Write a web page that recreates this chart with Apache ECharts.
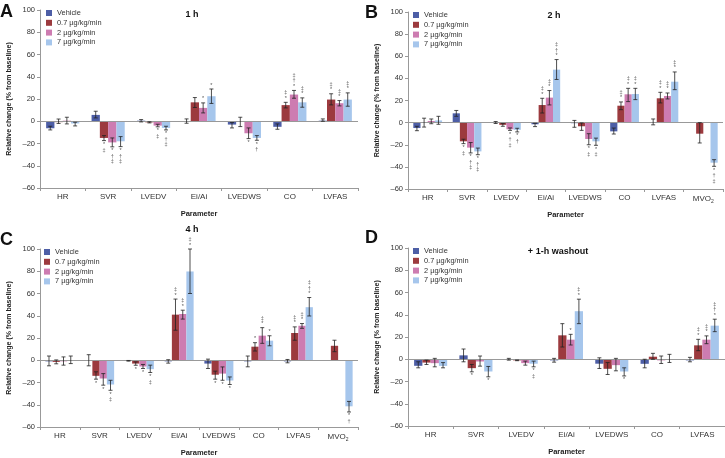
<!DOCTYPE html>
<html>
<head>
<meta charset="utf-8">
<script src="https://cdn.jsdelivr.net/npm/echarts@6/dist/echarts.min.js"></script>
<style>html,body{margin:0;padding:0;background:#fff}#c{width:725px;height:458px}</style>
</head>
<body>
<div id="c"></div>
<script>
// ---------- DATA ----------
const seriesNames = ['Vehicle', '0.7 \u00b5g/kg/min', '2 \u00b5g/kg/min', '7 \u00b5g/kg/min'];
const catsA = ['HR', 'SVR', 'LVEDV', 'Ei/Ai', 'LVEDWS', 'CO', 'LVFAS'];
const catsB = ['HR', 'SVR', 'LVEDV', 'Ei/Ai', 'LVEDWS', 'CO', 'LVFAS', 'MVO2'];
const catsC = ['HR', 'SVR', 'LVEDV', 'Ei/Ai', 'LVEDWS', 'CO', 'LVFAS', 'MVO2'];
const catsD = ['HR', 'SVR', 'LVEDV', 'Ei/Ai', 'LVEDWS', 'CO', 'LVFAS'];
const yTicks = [-60, -40, -20, 0, 20, 40, 60, 80, 100];
const panelTitles = ['1 h', '2 h', '4 h', '+ 1-h washout'];

// Panel A (1 h)
const A_veh = [-6.3, 5.7, 0.5, 0, -3, -5, 0.5];
const A_07  = [-0.8, -15, -1, 17, 0, 14.5, 19.5];
const A_2   = [0.5, -19, -3.9, 12, -10.8, 24, 16.2];
const A_7   = [-2, -18, -6, 22.5, -15, 17, 19.5];
const A_veh_err = [[-7.8,-4.5],[3,9],[-0.6,1.5],[-1.8,2.1],[-6,-1.2],[-7.2,-2.4],[0,2.1]];
const A_07_err  = [[-2,2],[-17.4,-12.9],[-1.5,-0.5],[12.4,21.3],[-4.8,3.6],[12,17],[14.7,24.7]];
const A_2_err   = [[-2.4,3.6],[-23,-15],[-5,-2.7],[7.5,16.5],[-15.6,-6],[20.7,27.7],[13.8,18.6]];
const A_7_err   = [[-4.2,-0.9],[-22.8,-13.8],[-7.8,-4.5],[16,29],[-17.1,-12.9],[12.6,21],[13.5,25.5]];
const A_07_sig  = ['', '*\u2021', '', '', '', '*\u2021', '*\u2021'];
const A_2_sig   = ['', '*\u2020\u2021', '*\u2021', '*', '*', '*\u2020\u2021', '*\u2021'];
const A_7_sig   = ['', '*\u2020\u2021', '*\u2020\u2021', '*', '*\u2020', '*\u2021', '*\u2021'];

// Panel B (2 h)
const B_veh = [-4.9, 8.4, -0.3, -1.5, -0.5, -7.9, 0.5, null];
const B_07  = [0, -16.9, -2, 15.9, -3.3, 15.3, 22, -10];
const B_2   = [1.5, -22.6, -6, 22.6, -14.8, 25.6, 24.1, null];
const B_7   = [2, -26, -6.5, 47.9, -16.9, 25.9, 37, -36.2];
const B_veh_err = [[-7.3,-3.3],[5.7,11],[-0.8,1],[-3.6,-0.6],[-4.2,2],[-10.3,-4.9],[-2,3.3],null];
const B_07_err  = [[-4,4],[-19,-15],[-3.3,-0.9],[8.7,22],[-7,-0.3],[11.7,18.7],[17.8,27.4],[-18.4,0]];
const B_2_err   = [[-1,3.3],[-27.4,-18],[-7,-4.8],[16,29],[-20,-10],[19,31],[21.4,26.8],null];
const B_7_err   = [[-1.5,5.7],[-29,-23],[-8.4,-5.1],[39,57],[-20.5,-14],[20.8,31],[29.8,45.8],[-39.5,-33.5]];
const B_07_sig  = ['', '*\u2021', '', '*\u2021', '', '*\u2021', '*\u2021', ''];
const B_2_sig   = ['', '*\u2020\u2021', '*\u2020\u2021', '*\u2021', '*\u2021', '*\u2021', '*\u2021', ''];
const B_7_sig   = ['', '*\u2020\u2021', '*\u2020', '*\u2020\u2021', '*\u2021', '*\u2021', '*\u2021', '*\u2020\u2021'];

// Panel C (4 h)
const C_veh = [-1, 0, -0.5, -1, -3, -1, -1, null];
const C_07  = [-1.5, -14, -3, 41, -13, 12.2, 24.5, 13];
const C_2   = [-1, -16.4, -5.6, 41.6, -12, 22.1, 31, null];
const C_7   = [0, -21.8, -8, 79.8, -18.2, 17.6, 47.7, -41.4];
const C_veh_err = [[-5,3.8],[-5,5],[-0.8,-0.2],[-2.6,0.5],[-7.4,1],[-5.9,3.8],[-2.3,0.7],null];
const C_07_err  = [[-3.2,0.3],[-17,-10.4],[-4.5,-1.5],[27,55],[-17,-9.8],[8.3,15.8],[18,30],[7.7,18]];
const C_2_err   = [[-4.4,3],[-22.4,-12],[-7.4,-3.8],[37,45],[-18,-6],[15.2,29.3],[28.7,33],null];
const C_7_err   = [[-3,3.8],[-27,-18],[-11,-4.4],[60,100],[-21.8,-15],[13,22],[39.8,56.4],[-46.5,-37]];
const C_07_sig  = ['', '*', '*', '*\u2021', '*', '*', '*\u2021', ''];
const C_2_sig   = ['', '*', '*', '*\u2021', '*', '*\u2021', '*\u2021', ''];
const C_7_sig   = ['', '*\u2021', '*\u2021', '*\u2021', '*', '*', '*\u2020\u2021', '*\u2020'];

// Panel D (+ 1-h washout)
const D_veh = [-5.9, 3.5, 0, -1, -4, -4.1, -1];
const D_07  = [-3, -8, -1, 21.5, -8.6, 2.3, 12.5];
const D_2   = [-3.5, -2, -3.5, 17.6, -5.3, -1, 17.6];
const D_7   = [-6, -11, -4, 43.2, -11, 0, 30.2];
const D_veh_err = [[-7.7,-2.3],[-2.3,9.2],[-0.8,0.8],[-2.6,0.8],[-8.3,1.3],[-7.7,0],[-2.3,1.7]];
const D_07_err  = [[-4.7,-0.8],[-11.3,-4.7],[-1.3,-0.7],[11,32],[-13.7,-3],[0,5.3],[7.7,17.9]];
const D_2_err   = [[-6.8,0.8],[-6.2,2.9],[-5.3,-1.7],[12.8,22.4],[-10.4,0.8],[-3.8,2.9],[14,21]];
const D_7_err   = [[-7.7,-3],[-15.8,-6.5],[-6.8,-1.7],[32,54],[-15,-7.7],[-2.9,4.4],[24.8,36]];
const D_07_sig  = ['', '*', '', '', '', '', '*\u2021'];
const D_2_sig   = ['', '', '', '*', '', '', '*\u2021'];
const D_7_sig   = ['', '*', '*\u2021', '*\u2021', '*', '', '*\u2020\u2021'];

// ---------- CHART ----------
const colors = ['#4d5ea6', '#9c3a3e', '#cd7cb1', '#a6c6ec'];
const GAP = 0.27;
const FONT = '"Liberation Sans", Arial, Helvetica, sans-serif';
const noSig = [];

const panels = [
  { letter: 'A', cats: catsA, means: [A_veh, A_07, A_2, A_7], errs: [A_veh_err, A_07_err, A_2_err, A_7_err], sig: [noSig, A_07_sig, A_2_sig, A_7_sig],
    grid: { left: 40, top: 10, width: 318, height: 178 }, title: [192, 15], letterPos: [0, 12], legend: [46, 9] },
  { letter: 'B', cats: catsB, means: [B_veh, B_07, B_2, B_7], errs: [B_veh_err, B_07_err, B_2_err, B_7_err], sig: [noSig, B_07_sig, B_2_sig, B_7_sig],
    grid: { left: 408, top: 12, width: 315, height: 177 }, title: [554, 16], letterPos: [365, 13], legend: [413, 11] },
  { letter: 'C', cats: catsC, means: [C_veh, C_07, C_2, C_7], errs: [C_veh_err, C_07_err, C_2_err, C_7_err], sig: [noSig, C_07_sig, C_2_sig, C_7_sig],
    grid: { left: 40, top: 249, width: 318, height: 178 }, title: [192, 230], letterPos: [0, 240], legend: [44, 248] },
  { letter: 'D', cats: catsD, means: [D_veh, D_07, D_2, D_7], errs: [D_veh_err, D_07_err, D_2_err, D_7_err], sig: [noSig, D_07_sig, D_2_sig, D_7_sig],
    grid: { left: 408, top: 248, width: 317, height: 178 }, title: [558, 252], letterPos: [365, 238], legend: [413, 247] }
];

function makeErr(p, s) {
  return function (params, api) {
    const i = params.dataIndex;
    const e = p.errs[s][i];
    if (!e) return null;
    const c = api.coord([i, 0]);
    const band = api.size([1, 0])[0];
    const bw = band * (1 - GAP) / 4;
    const x = c[0] + (s - 1.5) * bw;
    const yLo = api.coord([i, e[0]])[1];
    const yHi = api.coord([i, e[1]])[1];
    const st = { stroke: '#222', lineWidth: 0.8 };
    const cw = 2;
    const children = [
      { type: 'line', shape: { x1: x, y1: yLo, x2: x, y2: yHi }, style: st },
      { type: 'line', shape: { x1: x - cw, y1: yLo, x2: x + cw, y2: yLo }, style: st },
      { type: 'line', shape: { x1: x - cw, y1: yHi, x2: x + cw, y2: yHi }, style: st }
    ];
    const m = Array.from(p.sig[s][i] || '');
    const up = p.means[s][i] >= 0;
    m.forEach(function (ch, k) {
      children.push({ type: 'text', style: { text: ch, x: x, y: up ? yHi - 4 - k * 5.5 : yLo + 4 + k * 5.5,
        align: 'center', verticalAlign: 'middle', fontSize: 5.5, fill: '#555', fontFamily: FONT } });
    });
    return { type: 'group', children: children };
  };
}

const grids = [], xAxes = [], yAxes = [], series = [], legends = [], graphics = [];
panels.forEach(function (p, g) {
  grids.push(p.grid);
  xAxes.push({
    type: 'category', gridIndex: g, data: p.cats,
    axisLine: { onZero: false, lineStyle: { color: '#999', width: 1 } },
    axisTick: { show: true, length: 3, interval: 0, lineStyle: { color: '#999' } },
    axisLabel: { interval: 0, fontSize: 8, color: '#333', margin: 5, fontFamily: FONT,
      formatter: function (v) { return v === 'MVO2' ? 'MVO{s|2}' : v; },
      rich: { s: { fontSize: 5, padding: [5, 0, 0, 0], color: '#333', fontFamily: FONT } } },
    name: 'Parameter', nameLocation: 'middle', nameGap: 22,
    nameTextStyle: { fontSize: 7.5, fontWeight: 'bold', color: '#222', fontFamily: FONT }
  });
  yAxes.push({
    type: 'value', gridIndex: g, min: yTicks[0], max: yTicks[yTicks.length - 1], interval: 20,
    axisLine: { show: true, lineStyle: { color: '#999', width: 1 } },
    axisTick: { show: true, length: 3, lineStyle: { color: '#999' } },
    splitLine: { show: false },
    axisLabel: { fontSize: 7.5, color: '#333', margin: 5, fontFamily: FONT,
      formatter: function (v) { return v < 0 ? '\u2013' + (-v) : String(v); } },
    name: 'Relative change (% from baseline)', nameLocation: 'middle', nameGap: 27,
    nameTextStyle: { fontSize: 7, fontWeight: 'bold', color: '#222', fontFamily: FONT }
  });
  for (let s = 0; s < 4; s++) {
    const bar = {
      type: 'bar', name: seriesNames[s], xAxisIndex: g, yAxisIndex: g,
      data: p.means[s], barGap: '0%', barCategoryGap: (GAP * 100) + '%',
      itemStyle: { color: colors[s] }, animation: false, silent: true
    };
    if (s === 0) {
      bar.markLine = { silent: true, symbol: 'none', label: { show: false },
        lineStyle: { color: '#999', width: 1, type: 'solid' }, data: [{ yAxis: 0 }], animation: false };
    }
    series.push(bar);
  }
  for (let s = 0; s < 4; s++) {
    series.push({
      type: 'custom', xAxisIndex: g, yAxisIndex: g, renderItem: makeErr(p, s),
      data: p.cats.map(function (c, i) { return [i, p.errs[s][i] ? p.errs[s][i][1] : 0]; }),
      encode: { x: 0, y: 1 }, z: 5, animation: false, silent: true
    });
  }
  legends.push({
    data: seriesNames, orient: 'vertical', left: p.legend[0], top: p.legend[1], padding: 0,
    itemWidth: 6, itemHeight: 6, itemGap: 1.8, icon: 'rect', selectedMode: false,
    textStyle: { fontSize: 7.4, color: '#333', fontFamily: FONT, lineHeight: 8 }
  });
  graphics.push({ type: 'text', left: p.letterPos[0], top: p.letterPos[1] - 9,
    style: { text: p.letter, fontSize: 18, fontWeight: 'bold', fill: '#111', fontFamily: FONT } });
  graphics.push({ type: 'text', x: p.title[0], y: p.title[1],
    style: { text: panelTitles[g], fontSize: 9, fontWeight: 'bold', fill: '#111', fontFamily: FONT,
      textAlign: 'center', textVerticalAlign: 'middle' } });
});

const chart = echarts.init(document.getElementById('c'), null, { renderer: 'canvas' });
chart.setOption({
  animation: false,
  backgroundColor: '#fff',
  grid: grids, xAxis: xAxes, yAxis: yAxes, series: series, legend: legends, graphic: graphics
});
</script>
</body>
</html>
